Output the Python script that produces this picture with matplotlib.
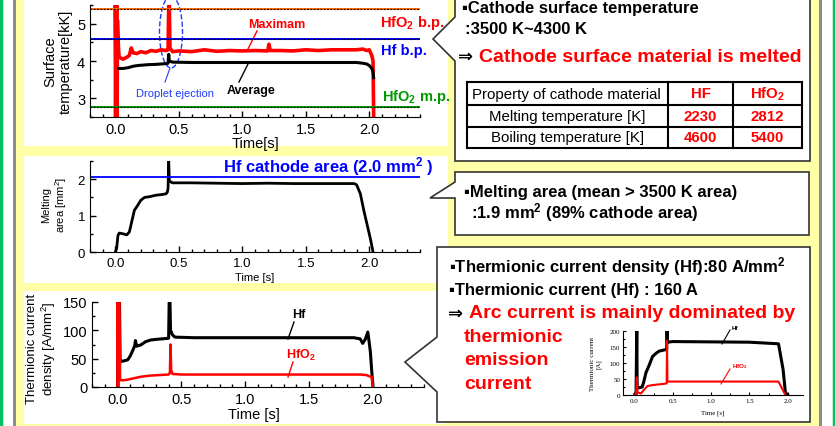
import matplotlib.pyplot as plt
from matplotlib.patches import Rectangle, Polygon, Ellipse
from matplotlib.ticker import MultipleLocator

plt.rcParams['font.family'] = ['Liberation Sans', 'DejaVu Sans', 'Noto Sans CJK JP']
plt.rcParams['mathtext.fontset'] = 'custom'
plt.rcParams['mathtext.rm'] = 'Liberation Sans'
plt.rcParams['mathtext.bf'] = 'Liberation Sans:bold'
plt.rcParams['mathtext.it'] = 'Liberation Sans:italic'

# ---- data ----
# surface temperature [kK]
temp_max_t = [0.000, 0.000, 0.006, 0.010, 0.014, 0.016, 0.020, 0.025, 0.030, 0.060,
              0.090, 0.110, 0.125, 0.140, 0.170, 0.200, 0.240, 0.280, 0.320, 0.360,
              0.400, 0.415, 0.420, 0.425, 0.430, 0.450, 0.500, 0.600, 0.700, 0.800,
              0.900, 1.000, 1.100, 1.200, 1.210, 1.220, 1.300, 1.400, 1.500, 1.600,
              1.700, 1.800, 1.900, 1.950, 1.980, 2.000, 2.020, 2.030, 2.035]
temp_max = [2.50, 5.50, 2.50, 5.50, 2.50, 5.10, 4.70, 4.30, 4.10, 4.05,
            4.10, 4.15, 4.35, 4.22, 4.20, 4.25, 4.22, 4.28, 4.26, 4.30,
            4.28, 4.30, 5.50, 5.50, 4.35, 4.25, 4.27, 4.25, 4.30, 4.26,
            4.28, 4.27, 4.28, 4.27, 4.45, 4.28, 4.28, 4.27, 4.30, 4.28,
            4.30, 4.30, 4.30, 4.32, 4.28, 4.30, 4.15, 4.00, 2.50]
temp_avg_t = [0.025, 0.060, 0.100, 0.140, 0.180, 0.250, 0.320, 0.400, 0.415, 0.420,
              0.425, 0.450, 0.600, 0.800, 1.000, 1.200, 1.400, 1.600, 1.800, 1.900,
              1.950, 1.980, 2.000, 2.020, 2.030, 2.035]
temp_avg = [3.80, 3.80, 3.82, 3.86, 3.88, 3.90, 3.91, 3.93, 3.94, 4.18,
            4.00, 3.97, 3.96, 3.96, 3.96, 3.96, 3.96, 3.96, 3.96, 3.96,
            3.94, 3.92, 3.88, 3.80, 3.70, 3.55]
hfo2_bp, hf_bp, hfo2_mp = 5.4, 4.6, 2.78

# melting area [mm2]
area_t = [0.000, 0.010, 0.020, 0.030, 0.060, 0.090, 0.110, 0.130, 0.150, 0.170,
          0.200, 0.230, 0.270, 0.320, 0.370, 0.400, 0.410, 0.415, 0.420, 0.425,
          0.450, 0.600, 0.800, 1.000, 1.200, 1.400, 1.600, 1.800, 1.880, 1.900,
          1.930, 1.960, 1.990, 2.010, 2.030]
area = [0.00, 0.10, 0.45, 0.52, 0.50, 0.47, 0.55, 0.85, 1.15, 1.25,
        1.42, 1.50, 1.52, 1.56, 1.58, 1.60, 1.65, 1.75, 2.50, 1.95,
        1.90, 1.90, 1.89, 1.88, 1.89, 1.88, 1.88, 1.88, 1.88, 1.85,
        1.60, 1.10, 0.65, 0.35, 0.00]
cathode_area = 2.05

# thermionic current density [A/mm2]
jd_hf_t = [0.000, 0.000, 0.005, 0.008, 0.012, 0.015, 0.020, 0.050, 0.080, 0.100,
           0.120, 0.135, 0.140, 0.150, 0.180, 0.220, 0.260, 0.300, 0.350, 0.400,
           0.405, 0.410, 0.415, 0.430, 0.450, 0.600, 0.800, 1.000, 1.200, 1.400,
           1.600, 1.850, 1.900, 1.920, 1.940, 1.960, 1.970, 1.980, 1.990, 2.000]
jd_hf = [0, 160, 40, 160, 40, 160, 45, 46, 48, 55,
         65, 73, 82, 72, 74, 80, 83, 84, 85, 86,
         160, 160, 100, 92, 88, 87, 87, 87, 87, 87,
         87, 87, 85, 77, 84, 97, 80, 62, 30, 0]
jd_hfo2_t = [0.000, 0.000, 0.005, 0.010, 0.015, 0.020, 0.050, 0.080, 0.120, 0.180,
             0.250, 0.320, 0.400, 0.410, 0.415, 0.420, 0.430, 0.500, 1.000, 1.500,
             1.900, 1.950, 1.970, 1.990, 2.000]
jd_hfo2 = [0, 160, 0, 160, 160, 12, 12, 13, 15, 18,
           20, 21, 22, 25, 75, 30, 23, 22, 22, 22,
           22, 21, 19, 18, 0]

# thermionic current [A] (small inset)
cur_hf_t = [0.000, 0.020, 0.030, 0.035, 0.050, 0.100, 0.120, 0.150, 0.190, 0.235,
            0.280, 0.320, 0.410, 0.420, 0.425, 0.430, 0.500, 1.000, 1.500, 1.880,
            1.940, 1.970, 2.000]
cur_hf = [0, 0, 210, 25, 22, 25, 40, 70, 92, 120,
          130, 137, 142, 142, 205, 165, 167, 166, 165, 160,
          80, 8, 0]
cur_hfo2_t = [0.000, 0.020, 0.030, 0.040, 0.085, 0.130, 0.170, 0.235, 0.350, 0.420,
              0.425, 0.430, 1.000, 1.500, 1.880, 1.970]
cur_hfo2 = [0, 0, 55, 8, 5, 18, 28, 31, 34, 36,
            170, 42, 42, 42, 42, 0]

table_rows = ["Property of cathode material", "Melting temperature [K]", "Boiling temperature [K]"]
table_hf = ["HF", "2230", "4600"]
table_hfo2 = [r"HfO$_\mathbf{2}$", "2812", "5400"]

# ---- figure in pixel coordinates ----
W, H = 835, 427
YEL = '#FFFFA8'
fig = plt.figure(figsize=(W / 100, H / 100), dpi=100, facecolor=YEL)
bg = fig.add_axes([0, 0, 1, 1])
bg.set_xlim(0, W)
bg.set_ylim(H, 0)
bg.axis('off')


def rect(x0, y0, x1, y1, **kw):
    p = Rectangle((x0, y0), x1 - x0, y1 - y0, **kw)
    bg.add_patch(p)
    return p


def px_axes(x0, y0, x1, y1):
    ax = fig.add_axes([x0 / W, 1 - y1 / H, (x1 - x0) / W, (y1 - y0) / H])
    ax.patch.set_alpha(0)
    ax.spines['top'].set_visible(False)
    ax.spines['right'].set_visible(False)
    return ax


# slide frame
rect(0, 0, 13, H, fc='white', ec='none')
rect(13, 0, 16, H, fc='#8C8C8C', ec='none')
rect(819, 0, 822, H, fc='#8C8C8C', ec='none')
rect(822, 0, W, H, fc='white', ec='none')
bg.plot([1, 1], [0, H], color='#00C060', lw=2.5)
bg.plot([833.5, 833.5], [0, H], color='#00C060', lw=2.5)

# white panels behind the graphs
p1 = rect(24, -2, 448, 147, fc='white', ec='none')
p2 = rect(24, 157, 448, 284, fc='white', ec='none')
p3 = rect(24, 292, 446, 425, fc='white', ec='none')

# callout boxes
callouts = [
    [(455, -5), (810, -5), (810, 162), (455, 162), (455, 62), (433, 40), (455, 18)],
    [(455, 173), (809, 173), (809, 236), (455, 236), (455, 199), (430, 199), (455, 183)],
    [(437, 248), (810, 248), (810, 423), (437, 423), (437, 393), (405, 363), (437, 338)],
]
for pts in callouts:
    bg.add_patch(Polygon(pts, closed=True, fc='white', ec='#333333', lw=1.2, zorder=3))

tick_kw = dict(direction='in', labelsize=10.5, length=4, width=1)

# ---- graph 1: surface temperature ----
ax1 = px_axes(90, 6, 420, 118)
ax1.plot(temp_max_t, temp_max, color='red', lw=2.6)
ax1.plot(temp_avg_t, temp_avg, color='black', lw=2.2)
for val, col in [(hfo2_bp, '#FF6600'), (hf_bp, '#0000FF'), (hfo2_mp, '#009900')]:
    ax1.axhline(val, color=col, lw=1.4)
    ax1.axhline(val, color='black', lw=0.8, ls=(0, (1.5, 1.5)))
ax1.set_xlim(-0.2, 2.4)
ax1.set_ylim(2.5, 5.5)
ax1.set_xticks([0.0, 0.5, 1.0, 1.5, 2.0])
ax1.set_yticks([3, 4, 5])
ax1.xaxis.set_minor_locator(MultipleLocator(0.1))
ax1.yaxis.set_minor_locator(MultipleLocator(0.5))
ax1.tick_params(which='both', **tick_kw)
ax1.tick_params(which='minor', length=2)

bg.text(58, 62, "Surface\ntemperature[kK]", rotation=90, ha='center', va='center',
        fontsize=10.5, multialignment='center')
t = bg.text(255, 137, "Time[s]", ha='center', va='top', fontsize=10.5)
t.set_clip_path(p1)
bg.text(380, 23, r"HfO$_\mathbf{2}$ b.p.", color='red', fontsize=10.5, fontweight='bold', va='center')
bg.text(381, 51, "Hf b.p.", color='#0000FF', fontsize=10.5, fontweight='bold', va='center')
bg.text(382, 97, r"HfO$_\mathbf{2}$ m.p.", color='#009900', fontsize=10.5, fontweight='bold', va='center')
bg.text(277, 25, "Maximam", color='red', fontsize=9, fontweight='bold', ha='center', va='center')
bg.plot([257, 248], [32, 50], color='red', lw=1)
bg.text(251, 91, "Average", color='black', fontsize=9, fontweight='bold', ha='center', va='center')
bg.plot([248, 239], [65, 83], color='black', lw=1)
bg.add_patch(Ellipse((171, 33), 23, 72, fill=False, ec='#1E3CFF', lw=1, ls='--', zorder=4))
bg.plot([170, 165], [69, 83], color='#1E3CFF', lw=0.8, zorder=4)
bg.text(175, 94, "Droplet ejection", color='#1E3CFF', fontsize=8, ha='center', va='center')

# ---- graph 2: melting area ----
ax2 = px_axes(90, 162, 420, 253)
ax2.plot(area_t, area, color='black', lw=2)
ax2.axhline(cathode_area, color='#0000FF', lw=1.3)
ax2.set_xlim(-0.2, 2.4)
ax2.set_ylim(0, 2.5)
ax2.set_xticks([0.0, 0.5, 1.0, 1.5, 2.0])
ax2.set_yticks([0, 1, 2])
ax2.xaxis.set_minor_locator(MultipleLocator(0.1))
ax2.yaxis.set_minor_locator(MultipleLocator(0.5))
ax2.tick_params(which='both', **tick_kw)
ax2.tick_params(which='minor', length=2)
ax2.tick_params(labelsize=9.5)
bg.text(55, 205, "Melting\narea [mm$^2$]", rotation=90, ha='center', va='center',
        fontsize=8, multialignment='center')
bg.text(255, 278, "Time [s]", ha='center', va='center', fontsize=8)
bg.text(223, 167, r"Hf cathode area (2.0 mm$^\mathbf{2}$ )", color='#0000FF', fontsize=12,
        fontweight='bold', va='center')

# ---- graph 3: thermionic current density ----
ax3 = px_axes(92, 303, 424, 388)
ax3.plot(jd_hf_t, jd_hf, color='black', lw=2.2)
ax3.plot(jd_hfo2_t, jd_hfo2, color='red', lw=1.8)
ax3.set_xlim(-0.2, 2.4)
ax3.set_ylim(0, 150)
ax3.set_xticks([0.0, 0.5, 1.0, 1.5, 2.0])
ax3.set_yticks([0, 50, 100, 150])
ax3.xaxis.set_minor_locator(MultipleLocator(0.1))
ax3.yaxis.set_minor_locator(MultipleLocator(25))
ax3.tick_params(which='both', **tick_kw)
ax3.tick_params(which='minor', length=2)
bg.text(42, 349, "Thermionic current\ndensity [A/mm$^2$]", rotation=90, ha='center', va='center',
        fontsize=9.5, multialignment='center')
bg.text(254, 415, "Time [s]", ha='center', va='center', fontsize=10.5)
bg.text(299, 315, "Hf", fontsize=9, fontweight='bold', ha='center', va='center')
bg.plot([294, 288], [323, 340], color='black', lw=1)
bg.text(301, 355, r"HfO$_\mathbf{2}$", color='red', fontsize=9, fontweight='bold', ha='center', va='center')
bg.plot([293, 288], [363, 378], color='red', lw=1)

# ---- box 1 text ----
bold = dict(fontweight='bold', va='center', zorder=5)
bg.text(462, 9, "▪Cathode surface temperature", fontsize=12, **bold)
bg.text(465, 29, ":3500 K~4300 K", fontsize=12, **bold)
bg.text(458, 57, "⇒", fontsize=13, **bold)
bg.text(479, 57, "Cathode surface material is melted", fontsize=14, color='red', **bold)

row_y = [83, 106, 128, 149]
col_x = [467, 668, 733, 802]
for y in row_y:
    bg.plot([col_x[0], col_x[-1]], [y, y], color='black', lw=1.5, zorder=5)
for x in col_x:
    bg.plot([x, x], [row_y[0], row_y[-1]], color='black', lw=1.5, zorder=5)
for i in range(3):
    yc = (row_y[i] + row_y[i + 1]) / 2
    if i == 0:
        bg.text(472, yc, table_rows[i], fontsize=10.8, va='center', zorder=5)
    else:
        bg.text((col_x[0] + col_x[1]) / 2, yc, table_rows[i], fontsize=10.8, ha='center', va='center', zorder=5)
    bg.text((col_x[1] + col_x[2]) / 2, yc, table_hf[i], fontsize=10.8, color='red', ha='center', **bold)
    bg.text((col_x[2] + col_x[3]) / 2, yc, table_hfo2[i], fontsize=10.8, color='red', ha='center', **bold)

# ---- box 2 text ----
bg.text(464, 193, "▪Melting area (mean > 3500 K area)", fontsize=12, **bold)
bg.text(471, 213, r":1.9 mm$^\mathbf{2}$ (89% cathode area)", fontsize=12, **bold)

# ---- box 3 text ----
bg.text(449, 267, r"▪Thermionic current density (Hf):80 A/mm$^\mathbf{2}$", fontsize=12, **bold)
bg.text(449, 291, "▪Thermionic current (Hf) : 160 A", fontsize=12, **bold)
bg.text(448, 314, "⇒", fontsize=13, **bold)
bg.text(469, 314, "Arc current is mainly dominated by", fontsize=14, color='red', **bold)
for txt, y in [("thermionic", 338), ("emission", 361), ("current", 385)]:
    bg.text(464, y, txt, fontsize=14, color='red', **bold)

# ---- inset: thermionic current ----
axi = px_axes(623, 332, 803, 396)
axi.set_zorder(6)
axi.plot(cur_hf_t, cur_hf, color='black', lw=2.2)
axi.plot(cur_hfo2_t, cur_hfo2, color='red', lw=1.5)
axi.set_xlim(-0.15, 2.2)
axi.set_ylim(0, 200)
axi.set_xticks([0.0, 0.5, 1.0, 1.5, 2.0])
axi.set_yticks([0, 50, 100, 150, 200])
axi.xaxis.set_minor_locator(MultipleLocator(0.25))
axi.yaxis.set_minor_locator(MultipleLocator(25))
axi.tick_params(which='both', direction='in', labelsize=5, length=2.5, width=0.8, pad=2)
axi.tick_params(which='minor', length=1.5)
axi.set_xticklabels(["0.0", "0.5", "1.0", "1.5", "2.0"])
axi.set_yticklabels(["0", "50", "100", "150", "200"])
for lab in axi.get_xticklabels() + axi.get_yticklabels():
    lab.set_family('Liberation Serif')
bg.text(596, 364, "Thermionic current\n[A]", rotation=90, ha='center', va='center', fontsize=5,
        family='Liberation Serif', multialignment='center', zorder=7)
bg.text(713, 413, "Time [s]", ha='center', va='center', fontsize=5, family='Liberation Serif', zorder=7)
bg.text(732, 329, "Hf", fontsize=4.5, fontweight='bold', va='center', zorder=7)
bg.plot([730, 722], [331, 345], color='black', lw=0.8, zorder=7)
bg.text(732, 367, r"HfO$_\mathbf{2}$", fontsize=4.5, fontweight='bold', color='red', va='center', zorder=7)
bg.plot([730, 721], [370, 385], color='red', lw=0.8, zorder=7)

fig.savefig("out.png", dpi=100, facecolor=YEL)
